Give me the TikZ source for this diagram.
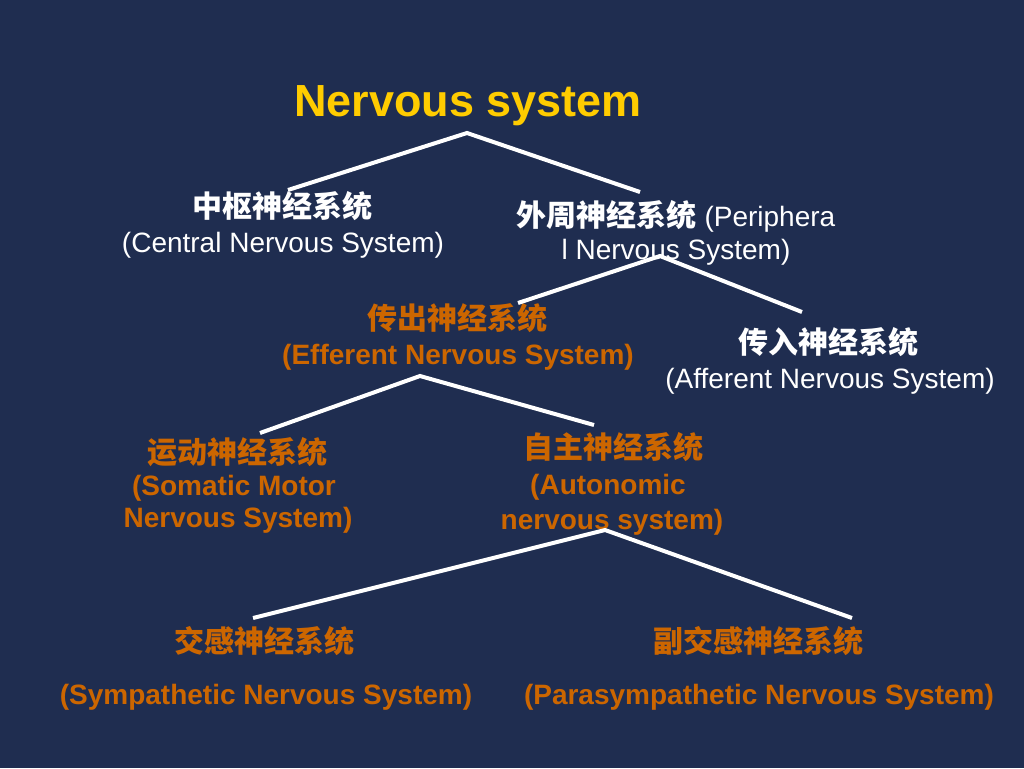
\documentclass[tikz,border=0pt]{standalone}
\usepackage{fontspec}
\setmainfont{Liberation Sans}
\newfontfamily\cjk{Noto Sans CJK SC}
\definecolor{bg}{RGB}{31,45,80}
\definecolor{titleyellow}{RGB}{255,204,0}
\definecolor{orangetxt}{RGB}{204,102,0}
\begin{document}
\begin{tikzpicture}[x=1pt,y=-1pt,
  txt/.style={inner sep=0pt, anchor=center},
  zh/.style={txt, font=\cjk\bfseries\fontsize{30}{36}\selectfont},
  en/.style={txt, font=\fontsize{28}{34}\selectfont},
  enb/.style={txt, font=\bfseries\fontsize{28}{34}\selectfont},
  wht/.style={text=white},
  org/.style={text=orangetxt},
  branch/.style={draw=white, line width=4pt, line join=miter}
]
\fill[bg] (0,0) rectangle (1024,768);
\useasboundingbox (0,0) rectangle (1024,768);

% texts
\node[txt, font=\bfseries\fontsize{45}{54}\selectfont, text=titleyellow] (title) at (468,106) {Nervous system};

\node[zh, wht] (cnszh) at (282,206) {中枢神经系统};
\node[en, wht] (cnsen) at (283,245) {(Central Nervous System)};

\node[en, wht] (pns1) at (676,216) {{\cjk\bfseries\fontsize{30}{36}\selectfont 外周神经系统} (Periphera};
\node[en, wht] (pns2) at (676,252) {l Nervous System)};

\node[zh, org] (effzh) at (457,318) {传出神经系统};
\node[enb, org] (effen) at (458,357) {(Efferent Nervous System)};

\node[zh, wht] (affzh) at (828,342) {传入神经系统};
\node[en, wht] (affen) at (830,381) {(Afferent Nervous System)};

\node[zh, org] (somzh) at (237,452) {运动神经系统};
\node[enb, org] (som2) at (234,488) {(Somatic Motor};
\node[enb, org] (som3) at (238,520) {Nervous System)};

\node[zh, org] (autzh) at (613,447) {自主神经系统};
\node[enb, org] (aut2) at (608,487) {(Autonomic};
\node[enb, org] (aut3) at (612,522) {nervous system)};

\node[zh, org] (symzh) at (264,641) {交感神经系统};
\node[enb, org] (symen) at (266,697) {(Sympathetic Nervous System)};

\node[zh, org] (parzh) at (758,641) {副交感神经系统};
\node[enb, org] (paren) at (759,697) {(Parasympathetic Nervous System)};

% branch points
\coordinate (j0) at (467,133);
\coordinate (cnstop) at (288,190);
\coordinate (pnstop) at (640,192);
\coordinate (j1) at (660,256);
\coordinate (efftop) at (518,303);
\coordinate (afftop) at (802,312);
\coordinate (j2) at (420,376);
\coordinate (somtop) at (260,433);
\coordinate (auttop) at (594,425);
\coordinate (j3) at (605,530);
\coordinate (symtop) at (253,618);
\coordinate (partop) at (852,618);

\draw[branch] (cnstop) -- (j0) -- (pnstop);
\draw[branch] (efftop) -- (j1) -- (afftop);
\draw[branch] (somtop) -- (j2) -- (auttop);
\draw[branch] (symtop) -- (j3) -- (partop);
\end{tikzpicture}
\end{document}
